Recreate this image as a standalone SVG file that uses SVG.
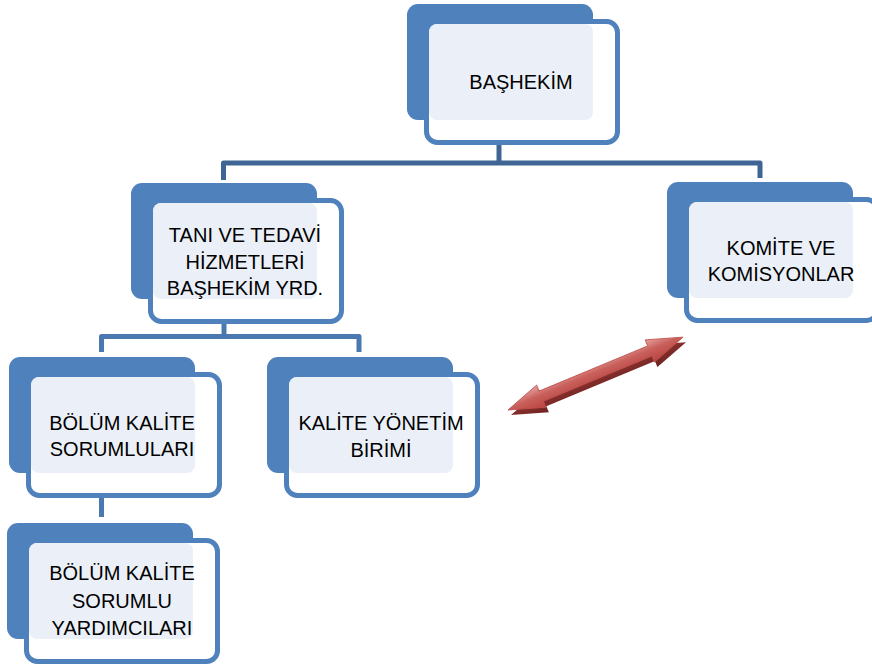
<svg xmlns="http://www.w3.org/2000/svg" width="872" height="665" viewBox="0 0 872 665">
<defs>
<style>
.back{fill:#4F81BD;}
.frame{fill:#FFFFFF;stroke:#4F81BD;stroke-width:5;}
.light{fill:#EBF0F8;}
.stub{stroke:#DDE6F1;stroke-width:5;fill:none;}
.conn1{stroke:#3E6594;stroke-width:5;fill:none;stroke-linejoin:round;}
.conn2{stroke:#4A78B0;stroke-width:5;fill:none;stroke-linejoin:round;}
.lbl{font-family:"Liberation Sans",Arial,sans-serif;font-size:20px;fill:#000000;text-anchor:middle;}
</style>
<linearGradient id="redFace" x1="0" y1="0" x2="0" y2="1">
<stop offset="0" stop-color="#E6A3A1"/>
<stop offset="0.45" stop-color="#C9605C"/>
<stop offset="1" stop-color="#B9443F"/>
</linearGradient>
<linearGradient id="redShadow" x1="0" y1="0" x2="0" y2="1">
<stop offset="0" stop-color="#9A3A37"/>
<stop offset="1" stop-color="#6E2220"/>
</linearGradient>
<path id="dblArrow" d="M0,0 L36,-12 L36,-5.5 L153.6,-5.5 L153.6,-12 L189.6,0 L153.6,12 L153.6,5.5 L36,5.5 L36,12 Z"/>
</defs>
<rect width="872" height="665" fill="#FFFFFF"/>

<g id="connectors">
<line class="stub" x1="499" y1="120" x2="499" y2="140"/>
<path class="conn1" d="M499,142 V163"/>
<path class="conn1" d="M223.5,180 V163 H760 V178"/>
<line class="stub" x1="224" y1="299" x2="224" y2="320"/>
<path class="conn2" d="M224,321 V336.5"/>
<path class="conn2" d="M101.5,352 V336.5 H359 V352"/>
<line class="stub" x1="101.5" y1="473" x2="101.5" y2="494"/>
<path class="conn2" d="M101.5,497 V517"/>
<g id="red-arrow">
<use href="#dblArrow" fill="url(#redShadow)" transform="translate(511,415) rotate(-22.6)"/>
<use href="#dblArrow" fill="url(#redFace)" stroke="#C0504D" stroke-width="0.8" transform="translate(508,410) rotate(-22.6)"/>
</g>
</g>

<g id="node-bashekim">
<rect class="back" x="407" y="4" width="186" height="116" rx="11"/>
<rect class="frame" x="426.5" y="21.5" width="191" height="121" rx="11"/>
<rect class="light" x="429" y="24" width="164" height="96" rx="8"/>
<text class="lbl" x="521" y="89">BAŞHEKİM</text>
</g>

<g id="node-tani">
<rect class="back" x="131" y="183" width="186" height="116" rx="11"/>
<rect class="frame" x="150.5" y="200.5" width="191" height="121" rx="11"/>
<rect class="light" x="153" y="203" width="164" height="96" rx="8"/>
<text class="lbl" x="245" y="242">TANI VE TEDAVİ</text>
<text class="lbl" x="245" y="269">HİZMETLERİ</text>
<text class="lbl" x="245" y="295">BAŞHEKİM YRD.</text>
</g>

<g id="node-komite">
<rect class="back" x="667" y="182" width="186" height="116" rx="11"/>
<rect class="frame" x="686.5" y="199.5" width="191" height="121" rx="11"/>
<rect class="light" x="689" y="202" width="164" height="96" rx="8"/>
<text class="lbl" x="781" y="255">KOMİTE VE</text>
<text class="lbl" x="781" y="281">KOMİSYONLAR</text>
</g>

<g id="node-bolum">
<rect class="back" x="9" y="357" width="186" height="116" rx="11"/>
<rect class="frame" x="28.5" y="374.5" width="191" height="121" rx="11"/>
<rect class="light" x="31" y="377" width="164" height="96" rx="8"/>
<text class="lbl" x="122" y="430">BÖLÜM KALİTE</text>
<text class="lbl" x="122" y="456">SORUMLULARI</text>
</g>

<g id="node-kalite">
<rect class="back" x="267" y="357" width="186" height="116" rx="11"/>
<rect class="frame" x="286.5" y="374.5" width="191" height="121" rx="11"/>
<rect class="light" x="289" y="377" width="164" height="96" rx="8"/>
<text class="lbl" x="381" y="430">KALİTE YÖNETİM</text>
<text class="lbl" x="381" y="457">BİRİMİ</text>
</g>

<g id="node-yardimci">
<rect class="back" x="7" y="523" width="186" height="116" rx="11"/>
<rect class="frame" x="26.5" y="540.5" width="191" height="121" rx="11"/>
<rect class="light" x="29" y="543" width="164" height="96" rx="8"/>
<text class="lbl" x="122" y="580">BÖLÜM KALİTE</text>
<text class="lbl" x="122" y="608">SORUMLU</text>
<text class="lbl" x="122" y="635">YARDIMCILARI</text>
</g>
</svg>
